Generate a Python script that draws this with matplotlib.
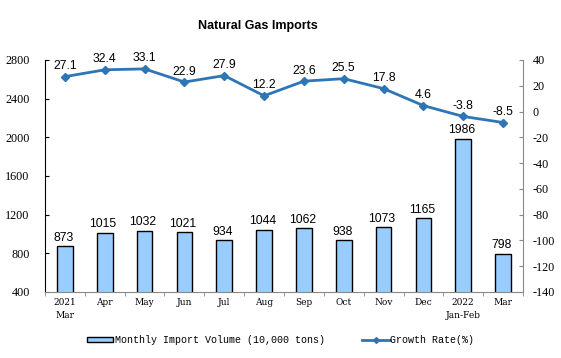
import matplotlib
matplotlib.use("Agg")
import matplotlib.pyplot as plt
import numpy as np
from matplotlib.lines import Line2D
from matplotlib.patches import Rectangle

categories = ["2021\nMar", "Apr", "May", "Jun", "Jul", "Aug", "Sep", "Oct", "Nov", "Dec", "2022\nJan-Feb", "Mar"]
volume = [873, 1015, 1032, 1021, 934, 1044, 1062, 938, 1073, 1165, 1986, 798]
growth = [27.1, 32.4, 33.1, 22.9, 27.9, 12.2, 23.6, 25.5, 17.8, 4.6, -3.8, -8.5]
left_ticks = [400, 800, 1200, 1600, 2000, 2400, 2800]
right_ticks = [40, 20, 0, -20, -40, -60, -80, -100, -120, -140]
legend_labels = ["Monthly Import Volume (10,000 tons)", "Growth Rate(%)"]

W, H = 561, 358
fig = plt.figure(figsize=(W / 100, H / 100), dpi=100)
ax = fig.add_axes([45 / W, 1 - 292 / H, (523 - 45) / W, (292 - 60) / H])
x = np.arange(len(categories))

bar_color = "#99CCFF"
line_color = "#2E75B6"

ax.bar(x, volume, width=0.39, color=bar_color, edgecolor="black", linewidth=1.0, zorder=2)
ax.set_xlim(-0.5, len(categories) - 0.5)
ax.set_ylim(400, 2800)
ax.set_yticks(left_ticks)
ax.set_yticklabels([str(t) for t in left_ticks], fontfamily="Liberation Serif", fontsize=8.7)
ax.set_xticks(x)
ax.set_xticklabels(categories, fontfamily="DejaVu Serif", fontsize=6.5, linespacing=1.6)
ax.tick_params(axis="x", length=0, pad=4)
ax.set_xticks(np.arange(-0.5, len(categories), 1), minor=True)
ax.tick_params(axis="x", which="minor", length=3, direction="out", color="#888888")
ax.tick_params(axis="y", length=3, direction="in", color="black", pad=11)
ax.spines["top"].set_visible(False)
ax.spines["right"].set_visible(False)
ax.spines["bottom"].set_color("#888888")
ax.spines["left"].set_color("black")
ax.spines["left"].set_linewidth(0.8)

for xi, v in zip(x, volume):
    ax.text(xi - 0.04, v + 25, str(v), ha="center", va="bottom", fontsize=8.8,
            fontfamily="Liberation Sans")

ax2 = ax.twinx()
ax2.set_position(ax.get_position())
ax2.plot(x, growth, color=line_color, linewidth=2, marker="D", markersize=4, zorder=3)
ax2.set_ylim(-140, 40)
ax2.set_yticks(right_ticks)
ax2.set_yticklabels([str(t) for t in right_ticks], fontfamily="Liberation Serif", fontsize=8.7)
ax2.tick_params(axis="y", length=3, direction="in", color="#888888", pad=7)
for s in ["top", "left", "bottom"]:
    ax2.spines[s].set_visible(False)
ax2.spines["right"].set_color("#888888")

for xi, g in zip(x, growth):
    ax2.text(xi, g + 3.5, f"{g}", ha="center", va="bottom", fontsize=8.8,
             fontfamily="Liberation Sans")

fig.text(258 / W, 1 - 26 / H, "Natural Gas Imports", ha="center", va="center",
         fontsize=9, fontweight="bold", fontfamily="Liberation Sans")

# legend (drawn in figure pixel coordinates)
def fx(px):
    return px / W

def fy(py):
    return 1 - py / H

fig.patches.append(Rectangle((fx(87), fy(341.5)), fx(113) - fx(87), fy(337) - fy(341.5),
                             transform=fig.transFigure, facecolor=bar_color,
                             edgecolor="black", linewidth=1.0))
fig.text(fx(115), fy(340), legend_labels[0], ha="left", va="center",
         fontfamily="Liberation Mono", fontsize=7.2)
fig.lines.append(Line2D([fx(362), fx(390)], [fy(339.5), fy(339.5)], transform=fig.transFigure,
                        color=line_color, linewidth=2))
fig.lines.append(Line2D([fx(376)], [fy(339.5)], transform=fig.transFigure,
                        color=line_color, marker="D", markersize=3, linestyle="none"))
fig.text(fx(390), fy(340), legend_labels[1], ha="left", va="center",
         fontfamily="Liberation Mono", fontsize=7.2)

fig.savefig("out.png", dpi=100)
